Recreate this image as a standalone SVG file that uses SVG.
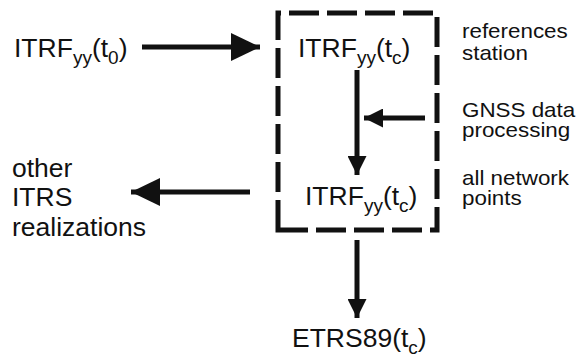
<svg xmlns="http://www.w3.org/2000/svg" width="579" height="359" viewBox="0 0 579 359">
<style>
text{font-family:"Liberation Sans",Arial,sans-serif;fill:#111}
.big{font-size:26.5px}
.lbl{font-size:20px}
.sub{font-size:19px}
.conn{stroke:#111;stroke-width:5;fill:none}
.box{stroke:#111;stroke-width:5;fill:none;stroke-dasharray:30 8}
</style>
<defs>
<marker id="hb" markerUnits="userSpaceOnUse" markerWidth="30" markerHeight="28" refX="29" refY="14" orient="auto">
<polygon points="0,0 29,14 0,28" fill="#111"/>
</marker>
<marker id="hs" markerUnits="userSpaceOnUse" markerWidth="20" markerHeight="19" refX="19" refY="9.5" orient="auto">
<polygon points="0,0 19,9.5 0,19" fill="#111"/>
</marker>
</defs>
<g id="box"><path class="box" d="M278,230 L278,13 L437,13 L437,230 Z"/></g>
<g id="connectors">
<line class="conn" x1="142" y1="47" x2="260" y2="47" marker-end="url(#hb)"/>
<line class="conn" x1="357" y1="70" x2="357" y2="175" marker-end="url(#hs)"/>
<line class="conn" x1="425" y1="118" x2="364" y2="118" marker-end="url(#hs)"/>
<line class="conn" x1="250" y1="192" x2="131" y2="192" marker-end="url(#hb)"/>
<line class="conn" x1="357" y1="240" x2="357" y2="318" marker-end="url(#hs)"/>
</g>
<g id="n-itrf-t0"><text class="big" x="14" y="57">ITRF<tspan class="sub" dy="7">yy</tspan><tspan dy="-7">(t</tspan><tspan class="sub" dy="7">0</tspan><tspan dy="-7">)</tspan></text></g>
<g id="n-itrf-tc-top"><text class="big" x="298" y="57">ITRF<tspan class="sub" dy="7">yy</tspan><tspan dy="-7">(t</tspan><tspan class="sub" dy="7">c</tspan><tspan dy="-7">)</tspan></text></g>
<g id="n-itrf-tc-bottom"><text class="big" x="305" y="205">ITRF<tspan class="sub" dy="7">yy</tspan><tspan dy="-7">(t</tspan><tspan class="sub" dy="7">c</tspan><tspan dy="-7">)</tspan></text></g>
<g id="n-etrs"><text class="big" x="292" y="347">ETRS89(t<tspan class="sub" dy="7">c</tspan><tspan dy="-7">)</tspan></text></g>
<g id="n-other"><text class="big" x="12"><tspan x="12" y="177">other</tspan><tspan x="12" y="206">ITRS</tspan><tspan x="12" y="236">realizations</tspan></text></g>
<g id="l-ref" transform="translate(462 0) scale(1.12 1)"><text class="lbl"><tspan x="0" y="38">references</tspan><tspan x="0" y="60">station</tspan></text></g>
<g id="l-gnss" transform="translate(462 0) scale(1.12 1)"><text class="lbl"><tspan x="0" y="117">GNSS data</tspan><tspan x="0" y="137">processing</tspan></text></g>
<g id="l-all" transform="translate(462 0) scale(1.12 1)"><text class="lbl"><tspan x="0" y="185">all network</tspan><tspan x="0" y="205">points</tspan></text></g>
</svg>
